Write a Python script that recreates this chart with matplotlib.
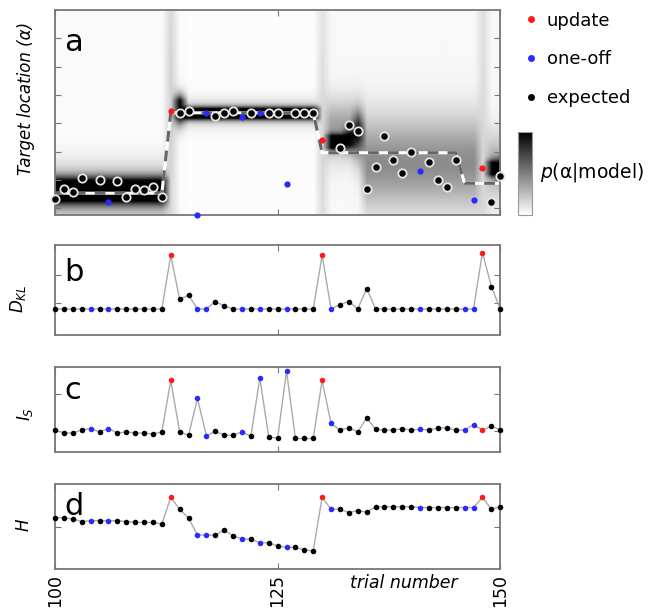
import numpy as np
import matplotlib
matplotlib.use("Agg")
import matplotlib.pyplot as plt
from matplotlib.lines import Line2D

# trials 100..150
trials = np.arange(100, 151)

# u = update, o = one-off, e = expected
kind = ("eeeeoeoeeeeee" "ueeooeeeoeoeeoeee" "uoeeeeeeeeeoeeeeoo" "uee")

# panel a: observed target location (nan = not visible)
target_obs = [0.34, 0.67, 0.56, 1.08, np.nan, 1.00, 0.22, 0.96, 0.41, 0.68,
              0.64, 0.74, 0.41, 3.44, 3.37, 3.43, -0.24, 3.37, 3.26, 3.35,
              3.44, 3.21, 3.37, 3.35, 3.37, 3.37, 0.85, 3.37, 3.37, 3.37,
              2.41, np.nan, 2.14, 2.94, 2.74, 0.67, 1.47, 2.56, 1.70, 1.26,
              2.00, 1.33, 1.62, 1.00, 0.76, 1.70, np.nan, 0.29, 1.42, 0.23,
              1.14]

# model expectation (dashed line)
model_mean = [0.53] * 13 + [3.37] * 17 + [1.96] * 16 + [0.88] * 5

# posterior p(alpha|model) per trial, narrow part: centre, width, peak
post_mu = ([0.62] * 13 + [3.4, 3.5] + [3.35] * 15 + [2.3, 2.33, 2.33, 2.4, 2.7]
           + [1.5] * 14 + [1.4, 1.4])
post_sd = ([0.3] * 13 + [1.0, 0.3] + [0.14] * 15 + [1.0, 0.17, 0.17, 0.25, 0.45]
           + [1.0] * 14 + [0.18, 0.25])
post_peak = ([1.5] * 13 + [0.0, 1.4] + [1.7] * 15 + [0.0, 1.6, 1.6, 0.9, 0.55]
             + [0.0] * 14 + [1.4, 0.9])
# broad part
post_bmu = [0.5] * 13 + [3.4, 3.4] + [3.35] * 15 + [2.3] + [2.8] * 3 + [2.6] + [1.6] * 13 + [1.5] + [1.5] * 2
post_bsd = [0.7] * 13 + [3.0, 0.5] + [0.35] * 15 + [2.0] + [0.7] * 3 + [0.8] + [1.1] * 13 + [2.0] + [0.8] * 2
post_bpeak = [0.3] * 13 + [0.06, 0.2] + [0.2] * 15 + [0.05] + [0.35] * 3 + [0.4] + [0.42] * 13 + [0.03] + [0.3] * 2
post_flat = [0.02] * 13 + [0.12, 0.02] + [0.01] * 15 + [0.11] + [0.03] * 3 + [0.03] + [0.03] * 13 + [0.13] + [0.03] * 2

# panel b: KL divergence
dkl = [0.77] * 13 + [2.71, 1.12, 1.27, 0.77, 0.77, 1.04, 0.88] + [0.77] * 10 + \
      [2.71, 0.77, 0.93, 1.04, 0.77, 1.51] + [0.77] * 12 + [2.81, 1.58, 0.77]

# panel c: surprise
i_s = [1.03, 0.95, 0.95, 1.03, 1.07, 0.98, 1.07, 0.95, 0.98, 0.95,
       0.95, 0.92, 0.98, 2.38, 0.98, 0.89, 1.89, 0.87, 1.00, 0.89,
       0.89, 0.98, 0.86, 2.45, 0.85, 0.80, 2.64, 0.80, 0.80, 0.80,
       2.38, 1.21, 1.03, 1.09, 0.98, 1.36, 1.05, 1.03, 1.03, 1.07,
       1.03, 1.05, 1.03, 1.09, 1.09, 1.03, 1.03, 1.18, 1.03, 1.14,
       1.03]

# panel d: entropy
h = [1.21, 1.21, 1.18, 1.12, 1.14, 1.14, 1.14, 1.14, 1.12, 1.10,
     1.10, 1.10, 1.06, 1.69, 1.41, 1.20, 0.80, 0.80, 0.80, 0.92,
     0.78, 0.71, 0.70, 0.62, 0.62, 0.54, 0.51, 0.51, 0.45, 0.43,
     1.69, 1.41, 1.41, 1.33, 1.38, 1.34, 1.47, 1.47, 1.47, 1.47,
     1.47, 1.45, 1.45, 1.45, 1.45, 1.45, 1.45, 1.45, 1.69, 1.41,
     1.47]

colores = {"u": "#ff1a1a", "o": "#2a2aff", "e": "black"}
spine_col = "#777777"


def estilo(ax, ylim, yticks):
    ax.set_xlim(100, 150)
    ax.set_ylim(*ylim)
    ax.set_xticks([100, 125, 150])
    ax.set_yticks(yticks)
    ax.tick_params(direction="in", length=4, color=spine_col, top=True, right=True,
                   labelbottom=False, labelleft=False)
    for s in ax.spines.values():
        s.set_color(spine_col)
        s.set_linewidth(1.3)


def puntos(ax, y):
    ax.plot(trials, y, color="#aaaaaa", lw=1, zorder=2)
    for k in "eou":
        sel = [i for i, c in enumerate(kind) if c == k]
        ax.plot(trials[sel], np.array(y)[sel], "o", ms=4, color=colores[k],
                mec="none", zorder=3, clip_on=False)


def gauss(v, m, s, p):
    return np.array(p) * np.exp(-0.5 * ((v[:, None] - np.array(m)) / np.array(s)) ** 2)


fig = plt.figure(figsize=(6.5, 6.1), dpi=100)

# ---- panel a
ax_a = fig.add_axes([0.0846, 0.6475, 0.685, 0.336])
v = np.linspace(-0.3, 7.0, 400)
dens = (np.array(post_flat) + gauss(v, post_mu, post_sd, post_peak)
        + gauss(v, post_bmu, post_bsd, post_bpeak))
im = ax_a.imshow(dens, origin="lower", extent=[99.5, 150.5, -0.3, 7.0], aspect="auto",
                 cmap="gray_r", vmin=0, vmax=1, interpolation="bilinear", zorder=0)
ax_a.plot(trials, model_mean, color="white", lw=2.2, zorder=2)
ax_a.plot(trials, model_mean, color="#666666", lw=2.2, dashes=(3.5, 3), zorder=2)
obs = np.array(target_obs)
for k in "eou":
    sel = [i for i, c in enumerate(kind) if c == k]
    if k == "e":
        ax_a.plot(trials[sel], obs[sel], "o", ms=6, color="black", mec="#e6e6e6",
                  mew=1.3, zorder=3, clip_on=False)
    else:
        ax_a.plot(trials[sel], obs[sel], "o", ms=4.5, color=colores[k], mec="none",
                  zorder=4, clip_on=False)
estilo(ax_a, (-0.24, 7.0), range(0, 7))
ax_a.set_ylabel("Target location (α)", fontsize=12, style="italic")
ax_a.yaxis.set_label_coords(-0.045, 0.57)
ax_a.text(0.02, 0.84, "a", transform=ax_a.transAxes, fontsize=22, va="center")

# ---- panel b
ax_b = fig.add_axes([0.0846, 0.4508, 0.685, 0.1475])
puntos(ax_b, dkl)
estilo(ax_b, (-0.17, 3.08), [1, 2])
ax_b.set_ylabel(r"$D_{KL}$", fontsize=12)
ax_b.yaxis.set_label_coords(-0.06, 0.4)
ax_b.text(0.02, 0.7, "b", transform=ax_b.transAxes, fontsize=22, va="center")

# ---- panel c
ax_c = fig.add_axes([0.0846, 0.2595, 0.685, 0.139])
puntos(ax_c, i_s)
estilo(ax_c, (0.44, 2.75), [1, 2])
ax_c.set_ylabel(r"$I_S$", fontsize=12)
ax_c.yaxis.set_label_coords(-0.045, 0.44)
ax_c.text(0.02, 0.72, "c", transform=ax_c.transAxes, fontsize=22, va="center")

# ---- panel d
ax_d = fig.add_axes([0.0846, 0.0672, 0.685, 0.139])
puntos(ax_d, h)
estilo(ax_d, (0, 2.0), [1])
ax_d.tick_params(labelbottom=True, labelsize=12.5)
ax_d.set_xticklabels(["100", "125", "150"], rotation=90)
ax_d.set_ylabel(r"$H$", fontsize=12)
ax_d.yaxis.set_label_coords(-0.05, 0.52)
ax_d.text(0.02, 0.74, "d", transform=ax_d.transAxes, fontsize=22, va="center")
ax_d.text(0.784, -0.165, "trial number", transform=ax_d.transAxes, fontsize=12.5,
          style="italic", ha="center", va="center")

# ---- legend and colour bar
handles = [Line2D([], [], ls="none", marker="o", ms=5, color=colores[k], mec="none")
           for k in "uoe"]
fig.legend(handles, ["update", "one-off", "expected"], loc="upper left",
           bbox_to_anchor=(0.79, 1.0), frameon=False, fontsize=13,
           handlelength=0.6, handletextpad=0.6, labelspacing=1.15, borderaxespad=0.25)

cax = fig.add_axes([0.797, 0.6475, 0.0215, 0.136])
cb = fig.colorbar(im, cax=cax)
cb.set_ticks([])
cb.outline.set_edgecolor("#999999")
fig.text(0.83, 0.718, r"$p$(α|model)", fontsize=13.5, va="center")

fig.savefig("out.png", dpi=100)
